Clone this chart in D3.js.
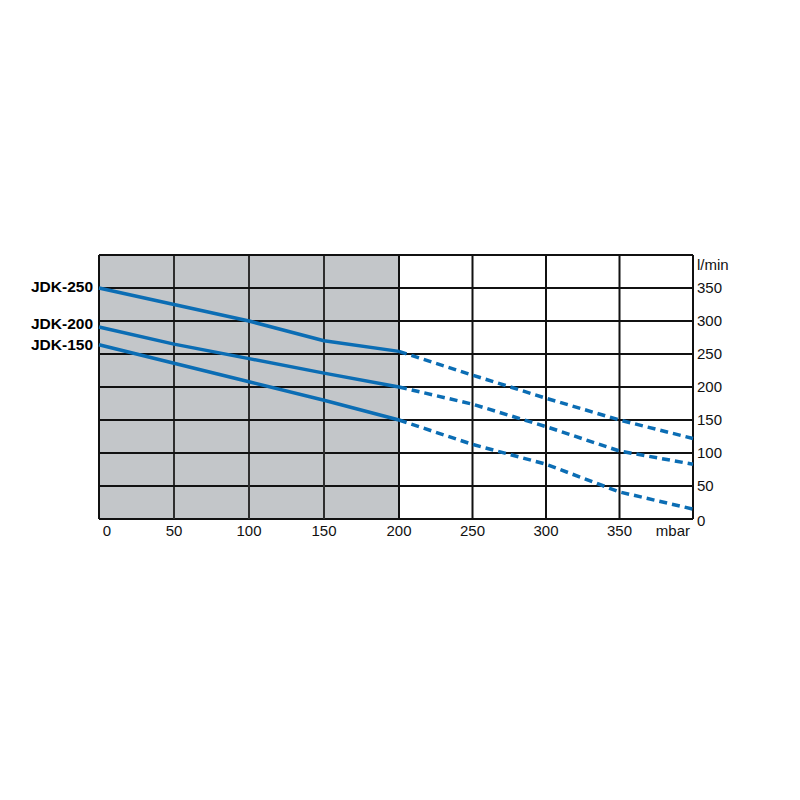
<!DOCTYPE html>
<html><head><meta charset="utf-8">
<script src="https://cdn.jsdelivr.net/npm/d3@7"></script>
<style>body{margin:0;background:#fff}svg{display:block}</style>
</head><body>
<svg id="c" width="800" height="800"></svg>
<script>
const pressure = [0, 50, 100, 150, 200, 250, 300, 350, 400];
const seriesNames = ["JDK-250", "JDK-200", "JDK-150"];
const jdk250 = [350, 325, 300, 270, 254, 218, 183, 150, 122];
const jdk200 = [291, 265, 243, 221, 200, 174, 140, 103, 83];
const jdk150 = [264, 236, 208, 180, 150, 113, 83, 41, 15];
const xTicks = [0, 50, 100, 150, 200, 250, 300, 350];
const yTicks = [0, 50, 100, 150, 200, 250, 300, 350];
const xUnit = "mbar";
const yUnit = "l/min";
const shadedUntil = 200;

(function () {
const svg = d3.select("#c");
const pLeft = 99, pMid = 399, pRight = 693, pTop = 255, pBottom = 519;
const x = d3.scaleLinear().domain([0, 200, 400]).range([pLeft, pMid, pRight]);
const y = d3.scaleLinear().domain([0, 400]).range([pBottom, pTop]);

svg.append("rect").attr("x", x(0)).attr("y", y(400))
  .attr("width", x(shadedUntil) - x(0)).attr("height", y(0) - y(400))
  .attr("fill", "#c3c6c9");

const g = svg.append("g");
d3.range(0, 401, 50).forEach(v => {
  g.append("line").attr("x1", x(v)).attr("x2", x(v)).attr("y1", y(0)).attr("y2", y(400))
    .attr("stroke", v < shadedUntil && v > 0 ? "#2e2e2e" : "#111").attr("stroke-width", 2);
  g.append("line").attr("x1", x(0)).attr("x2", x(400)).attr("y1", y(v)).attr("y2", y(v))
    .attr("stroke", "#111").attr("stroke-width", 2);
});

const blue = "#0b6db4";
const line = d3.line().x(d => x(d[0])).y(d => y(d[1]));
[jdk250, jdk200, jdk150].forEach((vals) => {
  const pts = pressure.map((p, j) => [p, vals[j]]);
  const solid = pts.filter(d => d[0] <= shadedUntil);
  const dashed = pts.filter(d => d[0] >= shadedUntil);
  svg.append("path").attr("d", line(solid)).attr("fill", "none")
    .attr("stroke", blue).attr("stroke-width", 3.5).attr("stroke-linejoin", "round");
  svg.append("path").attr("d", line(dashed)).attr("fill", "none")
    .attr("stroke", blue).attr("stroke-width", 3.5).attr("stroke-dasharray", "8,5");
});

const font = "Liberation Sans, Arial, sans-serif";
const nudge = [-1, -3, 0];
[jdk250, jdk200, jdk150].forEach((vals, i) => {
  svg.append("text").attr("x", 93).attr("y", y(vals[0]) + nudge[i])
    .attr("dy", "0.35em").attr("text-anchor", "end")
    .attr("font-family", font).attr("font-weight", "bold")
    .attr("font-size", 15.5).attr("fill", "#000").text(seriesNames[i]);
});

xTicks.forEach(v => {
  svg.append("text").attr("x", v === 0 ? x(v) + 8 : x(v)).attr("y", 536)
    .attr("text-anchor", "middle").attr("font-family", font).attr("font-size", 15)
    .attr("fill", "#111").text(v);
});
svg.append("text").attr("x", 690).attr("y", 536).attr("text-anchor", "end")
  .attr("font-family", font).attr("font-size", 15).attr("fill", "#111").text(xUnit);

yTicks.forEach(v => {
  svg.append("text").attr("x", 697).attr("y", y(v) + (v === 0 ? 2 : 0)).attr("dy", "0.35em")
    .attr("font-family", font).attr("font-size", 15).attr("fill", "#111").text(v);
});
svg.append("text").attr("x", 697).attr("y", 265).attr("dy", "0.35em")
  .attr("font-family", font).attr("font-size", 15).attr("fill", "#111").text(yUnit);
})();
</script>
</body></html>
